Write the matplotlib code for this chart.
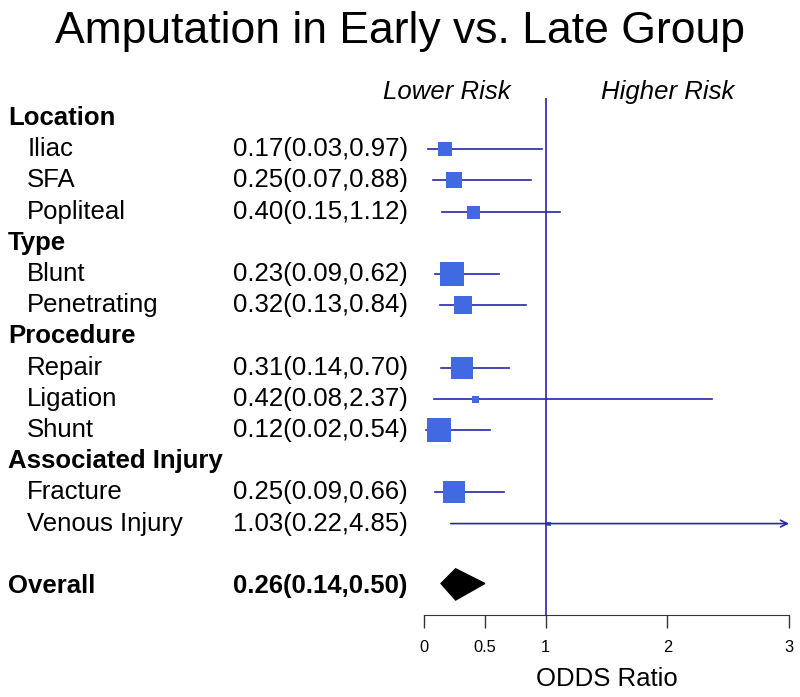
import matplotlib.pyplot as plt
from matplotlib.patches import Polygon
from matplotlib.transforms import blended_transform_factory

plt.rcParams['font.family'] = ['Liberation Sans', 'DejaVu Sans']

# subgroup odds ratios with 95% CI
groups = ['Location', 'Type', 'Procedure', 'Associated Injury']
items = ['Iliac', 'SFA', 'Popliteal', 'Blunt', 'Penetrating',
         'Repair', 'Ligation', 'Shunt', 'Fracture', 'Venous Injury']
item_group = [0, 0, 0, 1, 1, 2, 2, 2, 3, 3]
odds = [0.17, 0.25, 0.40, 0.23, 0.32, 0.31, 0.42, 0.12, 0.25, 1.03]
lower = [0.03, 0.07, 0.15, 0.09, 0.13, 0.14, 0.08, 0.02, 0.09, 0.22]
upper = [0.97, 0.88, 1.12, 0.62, 0.84, 0.70, 2.37, 0.54, 0.66, 4.85]
weight = [14, 16, 13, 24, 18, 23, 7, 24, 23, 5]   # box size (study weight)
overall = [0.26, 0.14, 0.50]
xticks = [0, 0.5, 1, 2, 3]

line_col = '#2626a8'
box_col = '#4169e1'

fig = plt.figure(figsize=(8, 6.97), dpi=100)
ax = fig.add_axes([424 / 800, 82 / 697, 365 / 800, 517 / 697])
ax.set_xlim(0, 3)
ax.set_ylim(15.93, -0.64)

lab = blended_transform_factory(fig.transFigure, ax.transData)
fs = 18.5

# build rows: header then its items
row = 0
for g, name in enumerate(groups):
    ax.text(0.01, row, name, transform=lab, fontsize=fs, fontweight='bold',
            va='center', ha='left')
    row += 1
    for i in range(len(items)):
        if item_group[i] != g:
            continue
        ax.text(0.034, row, items[i], transform=lab, fontsize=fs, va='center')
        ax.text(0.291, row, '%.2f(%.2f,%.2f)' % (odds[i], lower[i], upper[i]),
                transform=lab, fontsize=fs, va='center')
        if upper[i] > 3:
            ax.annotate('', xy=(3.0, row), xytext=(lower[i], row),
                        arrowprops=dict(arrowstyle='->', color=line_col, lw=1.2,
                                        shrinkA=0, shrinkB=0, mutation_scale=12),
                        annotation_clip=False)
        else:
            ax.plot([lower[i], upper[i]], [row, row], color=line_col, lw=1.2)
        ax.plot(odds[i], row, marker='s', color=box_col, markeredgewidth=0,
                markersize=weight[i] * 0.72)
        row += 1

# overall estimate
row += 1
ax.text(0.01, row, 'Overall', transform=lab, fontsize=fs, fontweight='bold',
        va='center')
ax.text(0.291, row, '%.2f(%.2f,%.2f)' % tuple(overall), transform=lab,
        fontsize=fs, fontweight='bold', va='center')
ax.add_patch(Polygon([(overall[1], row - 0.08), (overall[0], row - 0.55),
                      (overall[2], row - 0.08), (overall[0], row + 0.45)],
                     closed=True, color='black'))

ax.axvline(1, color=line_col, lw=1.2)

ax.text(0.19, -0.83, 'Lower Risk', fontsize=fs, style='italic', ha='center',
        va='center')
ax.text(2.0, -0.83, 'Higher Risk', fontsize=fs, style='italic', ha='center',
        va='center')

for s in ['top', 'left', 'right']:
    ax.spines[s].set_visible(False)
ax.spines['bottom'].set_bounds(0, 3)
ax.spines['bottom'].set_color('#333333')
ax.set_yticks([])
ax.set_xticks(xticks)
ax.set_xticklabels(['0', '0.5', '1', '2', '3'])
ax.tick_params(axis='x', length=9, width=1, color='#333333', labelsize=11.8, pad=9)
ax.set_xlabel('ODDS Ratio', fontsize=fs, labelpad=9)

fig.text(0.5, 1 - 31 / 697, 'Amputation in Early vs. Late Group', fontsize=32,
         ha='center', va='center')

plt.savefig('out.png')
